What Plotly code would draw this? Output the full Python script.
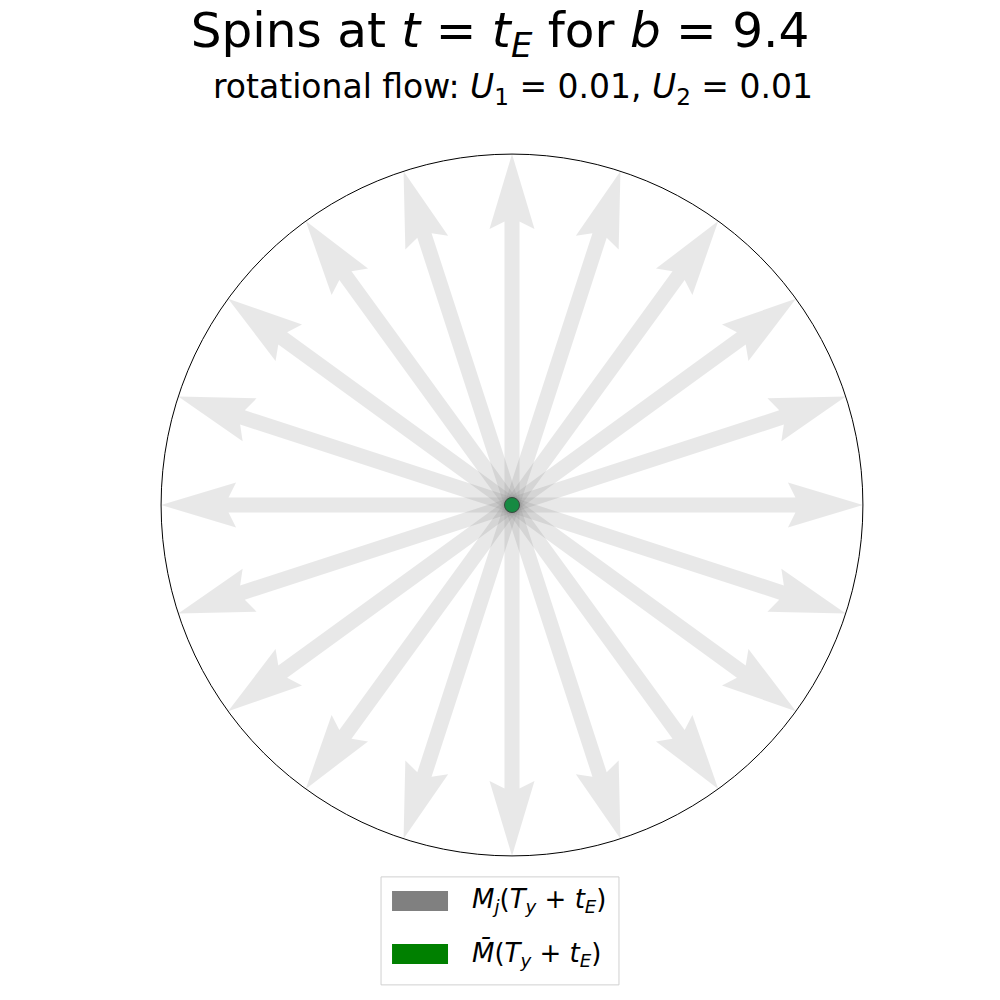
import plotly.graph_objects as go
import math

# ---- data ----
spin_angles_deg = [0, 18, 36, 54, 72, 90, 108, 126, 144, 162,
                   180, 198, 216, 234, 252, 270, 288, 306, 324, 342]
spin_magnitudes = [1.0] * 20
mean_spin = [0.0, 0.0]
title_text = "Spins at <i>t</i> = <i>t</i><sub><i>E</i></sub> for <i>b</i> = 9.4"
subtitle_text = "rotational flow: <i>U</i><sub>1</sub> = 0.01, <i>U</i><sub>2</sub> = 0.01"
legend_labels = ["<i>M</i><sub><i>j</i></sub>(<i>T</i><sub><i>y</i></sub> + <i>t</i><sub><i>E</i></sub>)",
                 "<i>M̄</i>(<i>T</i><sub><i>y</i></sub> + <i>t</i><sub><i>E</i></sub>)"]

# ---- layout geometry (pixels, target screen coords; page body has 8px offset) ----
OFF = 8
W = H = 1000
cx, cy, R = 512 - OFF, 505 - OFF, 351
rng = 1.1
half = rng * R
ml, mr = cx - half, W - (cx + half)
mt, mb = cy - half, H - (cy + half)
pw = 2 * half

def px(x):
    return (x - OFF - ml) / pw

def py(y):
    return (H - mb - (y - OFF)) / pw

# quiver arrow proportions (in data units)
w = 15 / R
hw, hl, hal = 3 * w, 5 * w, 4.5 * w

def arrow_poly(ang_deg, L):
    a = math.radians(ang_deg)
    ca, sa = math.cos(a), math.sin(a)
    pts = [(0, -w / 2), (L - hal, -w / 2), (L - hl, -hw / 2), (L, 0),
           (L - hl, hw / 2), (L - hal, w / 2), (0, w / 2), (0, -w / 2)]
    xs = [p * ca - q * sa for p, q in pts]
    ys = [p * sa + q * ca for p, q in pts]
    return xs, ys

fig = go.Figure()
for ang, mag in zip(spin_angles_deg, spin_magnitudes):
    xs, ys = arrow_poly(ang, mag)
    fig.add_trace(go.Scatter(x=xs, y=ys, mode="lines", fill="toself",
                             fillcolor="rgba(128,128,128,0.18)",
                             line=dict(width=0), hoverinfo="skip",
                             showlegend=False))

fig.add_trace(go.Scatter(x=[mean_spin[0]], y=[mean_spin[1]], mode="markers",
                         marker=dict(size=15, color="#168a42",
                                     line=dict(color="#3a4a40", width=1)),
                         showlegend=False))

fig.add_shape(type="circle", xref="x", yref="y", x0=-1, y0=-1, x1=1, y1=1,
              line=dict(color="black", width=1), layer="above")

# manual legend
fig.add_shape(type="rect", xref="paper", yref="paper",
              x0=px(381), x1=px(619), y0=py(985), y1=py(877),
              line=dict(color="#d0d0d0", width=1), fillcolor="white")
for (y0, y1, col, lab, ty) in [(891, 911, "#808080", legend_labels[0], 901),
                               (944, 964, "#008000", legend_labels[1], 954)]:
    fig.add_shape(type="rect", xref="paper", yref="paper",
                  x0=px(392), x1=px(448), y0=py(y1), y1=py(y0),
                  line=dict(width=0), fillcolor=col)
    fig.add_annotation(xref="paper", yref="paper", x=px(470), y=py(ty),
                       xanchor="left", yanchor="middle", text=lab,
                       showarrow=False, font=dict(size=26, color="black"))

fig.add_annotation(xref="paper", yref="paper", x=px(513), y=py(88),
                   xanchor="center", yanchor="middle", text=subtitle_text,
                   showarrow=False, font=dict(size=33, color="black"))

fig.update_layout(
    width=W, height=H, autosize=False,
    margin=dict(l=ml, r=mr, t=mt, b=mb, pad=0),
    paper_bgcolor="white", plot_bgcolor="white",
    font=dict(family="DejaVu Sans", color="black"),
    title=dict(text=title_text, x=px(500), xanchor="center", xref="paper",
               y=1 - (30 - OFF) / H, yanchor="middle", yref="container",
               font=dict(size=48.5, color="black")),
    xaxis=dict(range=[-rng, rng], visible=False, showgrid=False, zeroline=False),
    yaxis=dict(range=[-rng, rng], visible=False, showgrid=False, zeroline=False,
               scaleanchor="x", scaleratio=1),
    showlegend=False,
)

fig.write_html("out.html")
